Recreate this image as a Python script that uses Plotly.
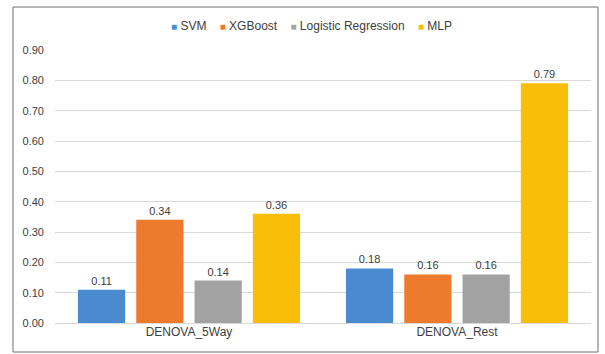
import plotly.graph_objects as go

# Datasets and per-model scores
datasets = ["DENOVA_5Way", "DENOVA_Rest"]
svm = [0.11, 0.18]
xgboost = [0.34, 0.16]
logistic = [0.14, 0.16]
mlp = [0.36, 0.79]
y_ticks = [0.0, 0.1, 0.2, 0.3, 0.4, 0.5, 0.6, 0.7, 0.8, 0.9]

series = [
    ("SVM", svm, "#4A8BD0"),
    ("XGBoost", xgboost, "#EE7A2E"),
    ("Logistic Regression", logistic, "#A2A2A2"),
    ("MLP", mlp, "#F9BE0A"),
]

W, H = 605, 354
L, R, T, B = 55, 14, 50, 31
pw, ph = W - L - R, H - T - B

fig = go.Figure()
for name, vals, color in series:
    fig.add_trace(go.Bar(
        name=name, x=datasets, y=vals,
        marker=dict(color=color, line=dict(width=0)),
        text=[f"{v:.2f}" for v in vals], textposition="outside",
        textfont=dict(size=11, color="#404040"),
        cliponaxis=False, showlegend=False,
    ))

# Compact legend row: small coloured squares followed by the series names
gap = "&nbsp;" * 4
legend_text = gap.join(
    f'<span style="color:{c};font-size:10px">■</span>&nbsp;{n}' for n, _, c in series
)
fig.add_annotation(xref="paper", yref="paper",
                   x=(311.5 - L) / pw, y=((H - B) - 26) / ph,
                   xanchor="center", yanchor="middle", showarrow=False,
                   text=legend_text, font=dict(size=12, color="#404040"))

# Chart frame
fig.add_shape(type="rect", xref="paper", yref="paper",
              x0=(13 - L) / pw, x1=(598 - L) / pw,
              y0=-(352 - (H - B)) / ph, y1=((H - B) - 7) / ph,
              line=dict(color="#6E6E6E", width=1), layer="below")

fig.update_layout(
    width=W, height=H,
    margin=dict(l=L, r=R, t=T, b=B),
    paper_bgcolor="white", plot_bgcolor="white",
    font=dict(family="Liberation Sans, Arial, sans-serif", size=11, color="#404040"),
    barmode="group", bargap=0.13, bargroupgap=0.19,
    xaxis=dict(showgrid=False, showline=False, ticks="",
               tickfont=dict(size=12, color="#404040")),
    yaxis=dict(range=[0, 0.9], tickvals=y_ticks,
               ticktext=[f"{v:.2f}" for v in y_ticks],
               showgrid=True, gridcolor="#D9D9D9", gridwidth=1,
               zeroline=True, zerolinecolor="#D9D9D9", zerolinewidth=1,
               showline=False, ticks="", ticklabelstandoff=10,
               tickfont=dict(size=11, color="#404040")),
)

fig.write_html("out.html")
